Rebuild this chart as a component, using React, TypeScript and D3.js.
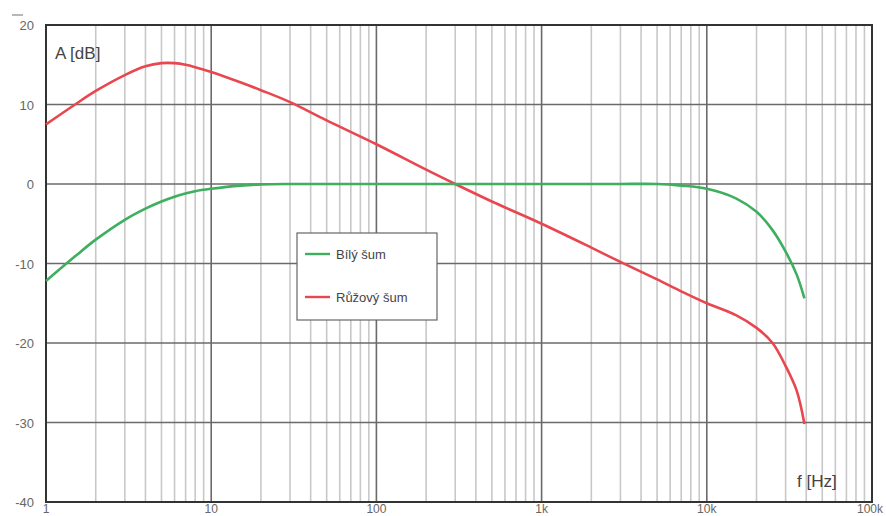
import React from "react";
import * as d3 from "d3";

const freqs = [1, 1.5, 2, 3, 4, 5, 6, 7, 8, 10, 15, 20, 30, 50, 100, 200, 300, 500, 1000, 2000, 3000, 5000, 7000, 10000, 15000, 20000, 25000, 30000, 35000, 39000];
const pinkNoise = [7.5, 10.0, 11.7, 13.7, 14.8, 15.2, 15.2, 15.0, 14.7, 14.1, 12.8, 11.8, 10.3, 8.0, 5.0, 1.8, 0, -2.2, -5.0, -8.0, -9.8, -12.0, -13.5, -15.0, -16.5, -18.1, -20.0, -22.9, -26.0, -30.2];
const whiteNoise = [-12.2, -9.1, -7.0, -4.5, -3.1, -2.2, -1.6, -1.2, -0.9, -0.6, -0.2, -0.05, 0, 0, 0, 0, 0, 0, 0, 0, 0, 0, -0.2, -0.6, -1.8, -3.5, -5.8, -8.5, -11.4, -14.4];
const yTicks = [20, 10, 0, -10, -20, -30, -40];
const xTickValues = [1, 10, 100, 1000, 10000, 100000];
const xTickLabels = ["1", "10", "100", "1k", "10k", "100k"];
const legendLabels = ["Bílý šum", "Růžový šum"];
const colors = ["#3fae5f", "#e8474f"];

const W = 886, H = 516;
const L = 46, R = 872, T = 25, B = 502;
const FONT = "'Liberation Sans', Arial, sans-serif";

export default function App() {
  const x = d3.scaleLog().domain([1, 100000]).range([L, R]);
  const y = d3.scaleLinear().domain([-40, 20]).range([B, T]);

  const minor: number[] = [];
  for (let d = 1; d < 100000; d *= 10) {
    for (let k = 2; k <= 9; k++) minor.push(d * k);
  }

  const line = d3
    .line<[number, number]>()
    .x((d) => x(d[0]))
    .y((d) => y(d[1]))
    .curve(d3.curveCatmullRom.alpha(0.5));

  const white = line(freqs.map((f, i) => [f, whiteNoise[i]] as [number, number])) || "";
  const pink = line(freqs.map((f, i) => [f, pinkNoise[i]] as [number, number])) || "";

  return (
    <svg width={W} height={H} style={{ position: "absolute", left: 0, top: 0, background: "#fff" }}>
      <rect x={0} y={0} width={W} height={H} fill="#fff" />
      {minor.map((m) => (
        <line key={"m" + m} x1={x(m)} x2={x(m)} y1={T} y2={B} stroke="#c8c8c8" strokeWidth={1.6} />
      ))}
      {xTickValues.map((v) => (
        <line key={"M" + v} x1={x(v)} x2={x(v)} y1={T} y2={B} stroke="#6a6a6a" strokeWidth={1.6} />
      ))}
      {yTicks.map((v) => (
        <line key={"h" + v} x1={L} x2={R} y1={y(v)} y2={y(v)} stroke="#6a6a6a" strokeWidth={1.6} />
      ))}
      <rect x={L} y={T} width={R - L} height={B - T} fill="none" stroke="#333" strokeWidth={2} />

      {yTicks.map((v) => (
        <text key={"yt" + v} x={34} y={y(v) + 5} textAnchor="end" fontFamily={FONT} fontSize={13} fill="#666">
          {v}
        </text>
      ))}
      <line x1={12} x2={23} y1={15} y2={15} stroke="#888" strokeWidth={1.2} />
      {xTickValues.map((v, i) => (
        <text key={"xt" + v} x={Math.min(x(v), 870)} y={513} textAnchor="middle" fontFamily={FONT} fontSize={12} fill="#666">
          {xTickLabels[i]}
        </text>
      ))}

      <path d={pink} fill="none" stroke={colors[1]} strokeWidth={2.6} />
      <path d={white} fill="none" stroke={colors[0]} strokeWidth={2.6} />

      <text x={55} y={59} fontFamily={FONT} fontSize={17} fill="#444">A [dB]</text>
      <text x={797} y={487} fontFamily={FONT} fontSize={17} fill="#444">f [Hz]</text>

      <rect x={297} y={233} width={140} height={87} fill="#fff" stroke="#666" strokeWidth={1.2} />
      {legendLabels.map((lab, i) => (
        <g key={lab}>
          <line x1={305} x2={330} y1={254 + i * 43} y2={254 + i * 43} stroke={colors[i]} strokeWidth={2.4} />
          <text x={336} y={259 + i * 43} fontFamily={FONT} fontSize={13} fill="#444">{lab}</text>
        </g>
      ))}
    </svg>
  );
}
